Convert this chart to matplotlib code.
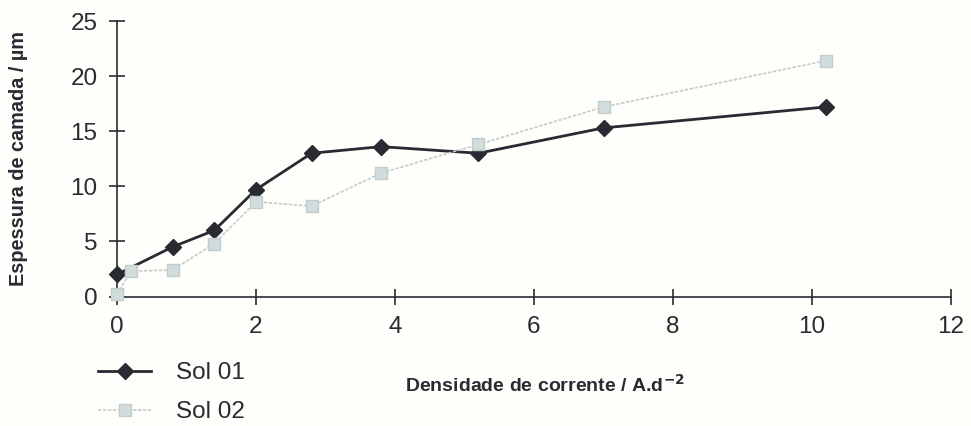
import matplotlib
matplotlib.use("Agg")
import matplotlib.pyplot as plt
from matplotlib.lines import Line2D

# Current density (A/dm^2) and coating thickness (um)
dens_sol01 = [0.0, 0.8, 1.4, 2.0, 2.8, 3.8, 5.2, 7.0, 10.2]
esp_sol01 = [2.0, 4.5, 6.0, 9.7, 13.0, 13.6, 13.0, 15.3, 17.2]

dens_sol02 = [0.0, 0.2, 0.8, 1.4, 2.0, 2.8, 3.8, 5.2, 7.0, 10.2]
esp_sol02 = [0.2, 2.3, 2.4, 4.8, 8.6, 8.2, 11.2, 13.8, 17.2, 21.4]

x_ticks = [0, 2, 4, 6, 8, 10, 12]
y_ticks = [0, 5, 10, 15, 20, 25]

ink = "#2a2a33"
pale = "#c2cccc"
pale_face = "#d3dcdc"

plt.rcParams["font.family"] = ["Liberation Sans", "DejaVu Sans"]

fig = plt.figure(figsize=(9.71, 4.26), dpi=100, facecolor="#fefefb")
ax = fig.add_axes([117 / 971, 1 - 296.5 / 426, (951 - 117) / 971, (296.5 - 21) / 426])
ax.set_facecolor("none")

ax.plot(dens_sol01, esp_sol01, color=ink, lw=2.0, marker="D", ms=8.5,
        mfc=ink, mec=ink, clip_on=False, zorder=3)
ax.plot(dens_sol02, esp_sol02, color=pale, lw=1.2, ls=(0, (2, 1)), marker="s", ms=8.5,
        mfc=pale_face, mec=pale, clip_on=False, zorder=4)

ax.set_xlim(0, 12)
ax.set_ylim(0, 25)
ax.set_xticks(x_ticks)
ax.set_yticks(y_ticks)
for s in ("top", "right"):
    ax.spines[s].set_visible(False)
for s in ("left", "bottom"):
    ax.spines[s].set_color(ink)
    ax.spines[s].set_linewidth(1.2)
ax.tick_params(direction="inout", length=12, width=1.2, color=ink,
               labelsize=17.5, labelcolor=ink, pad=8)

fig.text(545 / 971, 1 - 385 / 426, r"Densidade de corrente / A.d$^{\mathbf{-2}}$",
         ha="center", va="center", fontsize=14, fontweight="bold", color=ink)
fig.text(19 / 971, 1 - 158 / 426, "Espessura de camada / µm", rotation=90,
         ha="center", va="center", fontsize=14.3, fontweight="bold", color=ink)

handles = [
    Line2D([], [], color=ink, lw=2.0, marker="D", ms=8.5, mfc=ink, mec=ink),
    Line2D([], [], color=pale, lw=1.2, ls=(0, (2, 1)), marker="s", ms=8.5,
           mfc=pale_face, mec=pale),
]
fig.legend(handles, ["Sol 01", "Sol 02"], loc="upper left",
           bbox_to_anchor=(98 / 971, 1 - 362 / 426), frameon=False,
           fontsize=17.5, labelcolor=ink, handlelength=2.2, handletextpad=1.0,
           labelspacing=0.7, borderpad=0, borderaxespad=0)

fig.savefig("out.png", dpi=100, facecolor=fig.get_facecolor())
